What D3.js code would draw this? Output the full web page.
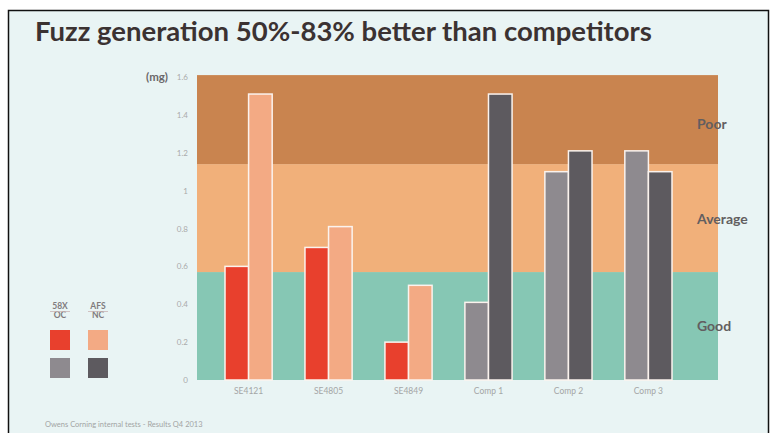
<!DOCTYPE html>
<html>
<head>
<meta charset="utf-8">
<script src="https://cdn.jsdelivr.net/npm/d3@7"></script>
<style>
  html, body { margin: 0; padding: 0; background: #ffffff; }
  svg text { font-family: Lato, "Open Sans", sans-serif; }
</style>
</head>
<body>
<svg width="772" height="433"></svg>
<script>
// values
const products   = ["SE4121", "SE4805", "SE4849", "Comp 1", "Comp 2", "Comp 3"];
const ownProduct = [true, true, true, false, false, false];
const fuzzFirst  = [0.60, 0.70, 0.20, 0.41, 1.10, 1.21];   // 58X OC
const fuzzSecond = [1.51, 0.81, 0.50, 1.51, 1.21, 1.10];   // AFS NC

const bandNames  = ["Good", "Average", "Poor"];
const bandBounds = [0, 0.57, 1.14, 1.61];
const yTicks     = [0, 0.2, 0.4, 0.6, 0.8, 1, 1.2, 1.4, 1.6];

const legendHeads = [["58X", "OC"], ["AFS", "NC"]];

const colors = {
  bands: {Good: "#86c7b4", Average: "#f1b07a", Poor: "#c9844f"},
  own:   ["#e8402d", "#f3aa84"],
  comp:  ["#8e8a8f", "#5d5a5f"]
};

const svg    = d3.select("svg");
const plot   = {left: 197, right: 718, top: 75, bottom: 380};

const y = d3.scaleLinear()
  .domain([0, 1.6])
  .range([plot.bottom, 77]);

const x = d3.scaleBand()
  .domain(products)
  .range([225, 672])
  .paddingInner(0.41)
  .paddingOuter(0);

const sub = d3.scaleBand()
  .domain([0, 1])
  .range([0, x.bandwidth()]);

// frame + background
svg.append("rect")
  .attr("x", 8.5).attr("y", 10.5)
  .attr("width", 760).attr("height", 430)
  .attr("fill", "#e9f4f4")
  .attr("stroke", "#111").attr("stroke-width", 1.5);

svg.append("text")
  .attr("x", 35).attr("y", 41)
  .attr("font-size", 27.5).attr("font-weight", "bold")
  .attr("fill", "#3b3232")
  .text("Fuzz generation 50%-83% better than competitors");

// quality bands
svg.append("g").selectAll("rect")
  .data(bandNames)
  .join("rect")
  .attr("x", plot.left)
  .attr("width", plot.right - plot.left)
  .attr("y", (d, i) => y(bandBounds[i + 1]))
  .attr("height", (d, i) => y(bandBounds[i]) - y(bandBounds[i + 1]))
  .attr("fill", d => colors.bands[d]);

svg.append("g").selectAll("text")
  .data(bandNames)
  .join("text")
  .attr("x", 697)
  .attr("y", (d, i) => [331, 224, 129][i])
  .attr("font-size", 14).attr("font-weight", "bold")
  .attr("fill", "#625e60")
  .text(d => d);

// y axis (labels only)
const yAxis = svg.append("g")
  .attr("transform", "translate(190,0)")
  .call(d3.axisLeft(y).tickValues(yTicks).tickSize(0).tickPadding(2)
    .tickFormat(d => d3.format("~g")(d)));
yAxis.select(".domain").remove();
yAxis.selectAll("text")
  .attr("font-size", 8)
  .attr("fill", "#a9aaaa")
  .style("font-family", "Lato, sans-serif");

svg.append("text")
  .attr("x", 168).attr("y", 81)
  .attr("text-anchor", "end")
  .attr("font-size", 11.5).attr("font-weight", "bold")
  .attr("fill", "#6a6769")
  .text("(mg)");

// bars
const groups = svg.append("g").selectAll("g")
  .data(products)
  .join("g")
  .attr("transform", d => `translate(${x(d)},0)`);

groups.selectAll("rect")
  .data((d, i) => [fuzzFirst[i], fuzzSecond[i]].map((v, k) => ({v, k, own: ownProduct[i]})))
  .join("rect")
  .attr("x", d => sub(d.k))
  .attr("width", sub.bandwidth())
  .attr("y", d => y(d.v))
  .attr("height", d => y(0) - y(d.v))
  .attr("fill", d => (d.own ? colors.own : colors.comp)[d.k])
  .attr("stroke", "#fbf3ee")
  .attr("stroke-width", 1.5);

// x labels
svg.append("g").selectAll("text")
  .data(products)
  .join("text")
  .attr("x", d => x(d) + x.bandwidth() / 2)
  .attr("y", 394)
  .attr("text-anchor", "middle")
  .attr("font-size", 8.5)
  .attr("fill", "#a4a6a6")
  .text(d => d);

// legend
const legend = svg.append("g");
legendHeads.forEach(function(lines, k) {
  const lx = 50 + k * 38;
  lines.forEach(function(t, j) {
    legend.append("text")
      .attr("x", lx + 10).attr("y", 309 + j * 9)
      .attr("text-anchor", "middle")
      .attr("font-size", 8.5).attr("font-weight", "bold")
      .attr("fill", "#7f7b7d")
      .text(t);
  });
  legend.append("line")
    .attr("x1", lx).attr("x2", lx + 20)
    .attr("y1", 311.5).attr("y2", 311.5)
    .attr("stroke", "#c9b4b4").attr("stroke-width", 0.8);
  legend.append("rect")
    .attr("x", lx).attr("y", 330).attr("width", 20).attr("height", 20)
    .attr("fill", colors.own[k]);
  legend.append("rect")
    .attr("x", lx).attr("y", 358).attr("width", 20).attr("height", 20)
    .attr("fill", colors.comp[k]);
});

svg.append("text")
  .attr("x", 45).attr("y", 427)
  .attr("font-size", 7.5)
  .attr("fill", "#a2a4a4")
  .text("Owens Corning internal tests - Results Q4 2013");
</script>
</body>
</html>
